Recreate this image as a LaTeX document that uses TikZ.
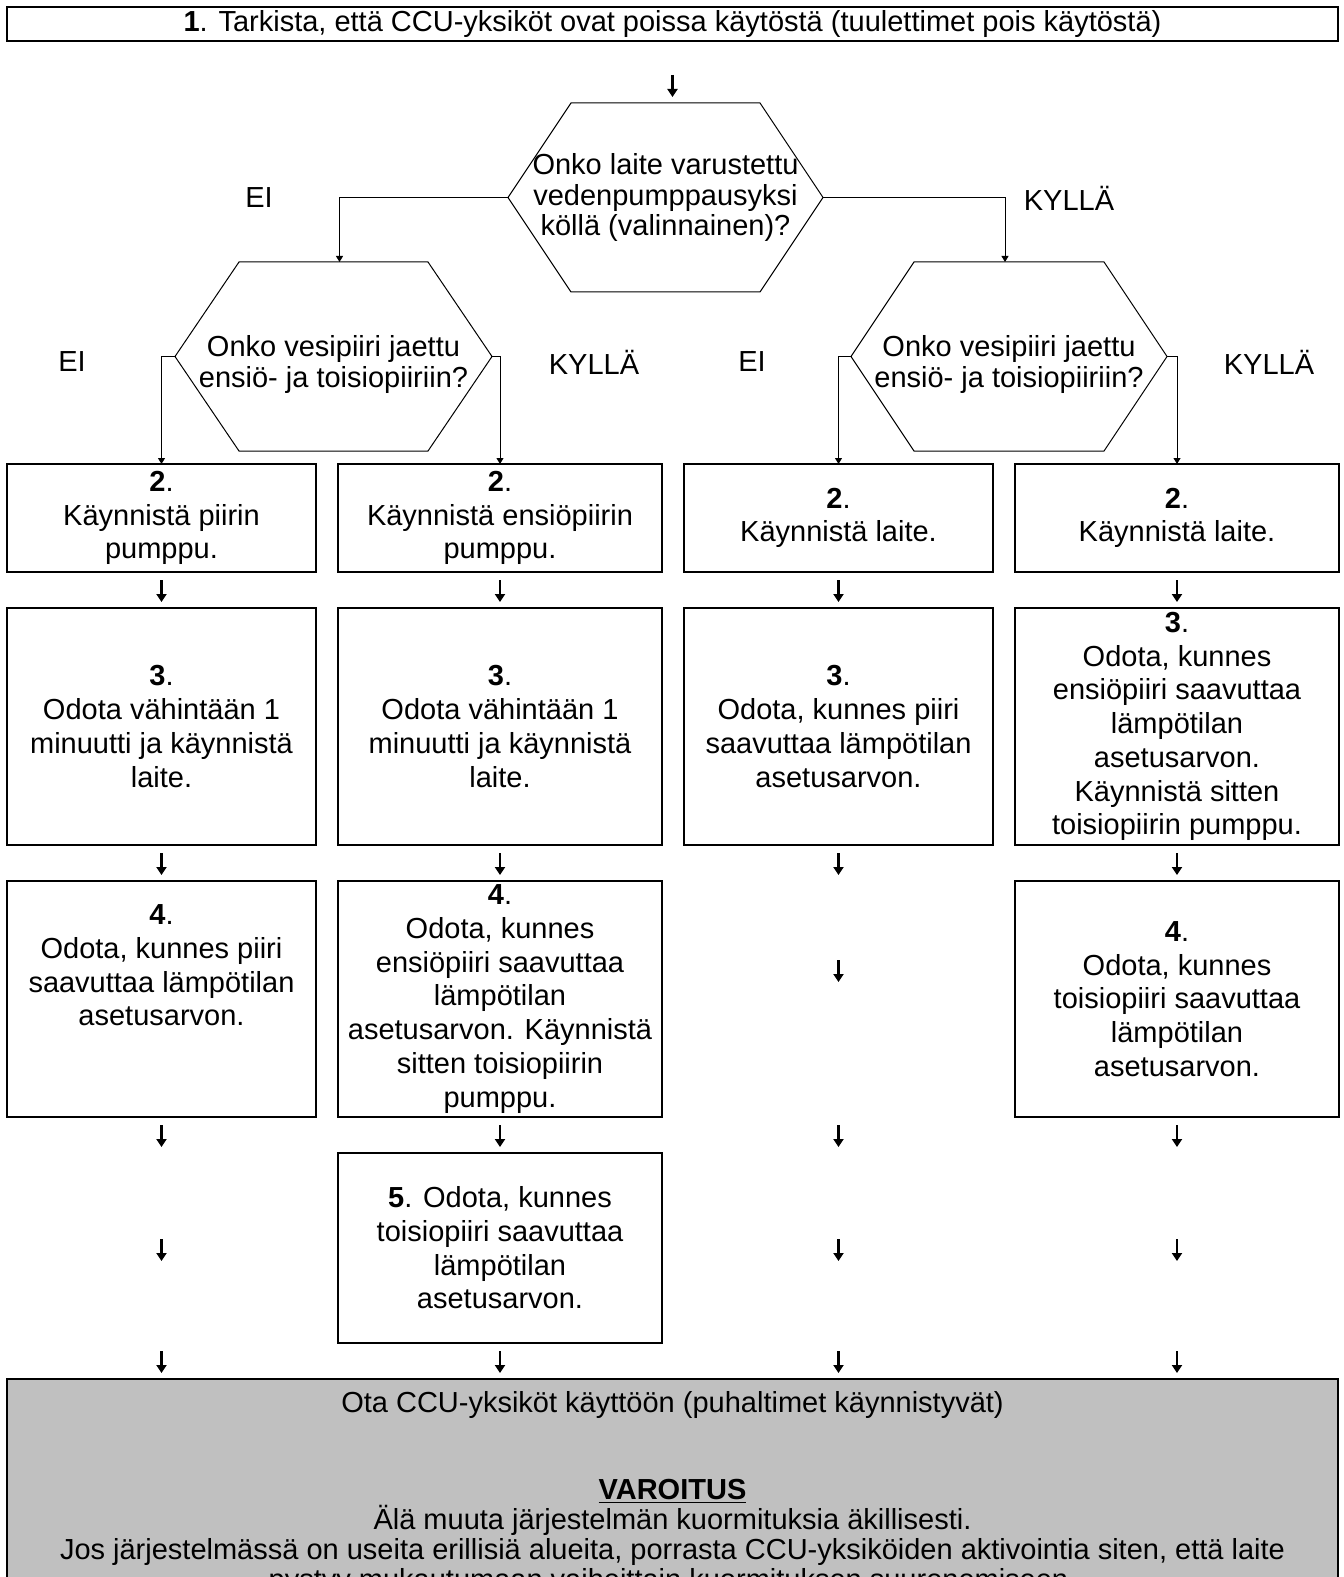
\documentclass[tikz,border=0pt]{standalone}
\usepackage{fontspec}
\setmainfont{Liberation Sans}
\usepackage{tikz}
\usetikzlibrary{arrows.meta,calc,positioning}
\definecolor{WarnGray}{HTML}{C0C0C0}
\newcommand{\boxfont}{\fontsize{14.5pt}{16.85pt}\selectfont}
\newcommand{\hexfont}{\fontsize{14.5pt}{15.1pt}\selectfont}
\newcommand{\hexoutline}[2]{%
  \draw[hexline] (#1.west) -- ($(#1.north west)+(#2,0)$) -- ($(#1.north east)+(-#2,0)$)
    -- (#1.east) -- ($(#1.south east)+(-#2,0)$) -- ($(#1.south west)+(#2,0)$) -- cycle;}
\tikzset{
  stepbox/.style={draw, line width=1pt, inner sep=0pt, outer sep=0pt, align=center, font=\boxfont},
  emptycell/.style={inner sep=0pt, outer sep=0pt},
  narrowcol/.style={minimum width=154.5pt},
  widecol/.style={minimum width=162pt},
  shortrow/.style={minimum height=54pt},
  tallrow/.style={minimum height=118.5pt},
  midrow/.style={minimum height=118pt},
  lastrow/.style={minimum height=95pt},
  hexq/.style={inner sep=0pt, outer sep=0pt, minimum height=94.5pt, align=center, font=\hexfont},
  hextext/.style={inner sep=0pt, align=center, font=\hexfont, yshift=-4pt},
  hexline/.style={line width=0.5pt},
  branchlabel/.style={inner sep=0pt, font=\boxfont},
  warnbox/.style={draw, line width=1pt, fill=WarnGray, anchor=north, minimum width=665.5pt, inner xsep=0pt, inner ysep=6pt, outer sep=0pt, align=center, font=\hexfont},
  cellarrow/.style={-{Triangle[length=4pt,width=5pt]}, line width=1.2pt},
  gaparrow/.style={cellarrow, shorten <=4pt, shorten >=3pt},
  brancharrow/.style={-{Triangle[length=3pt,width=3.5pt]}, line width=0.5pt}
}
\begin{document}
\begin{tikzpicture}[x=0.5pt, y=-0.5pt, node distance=18pt and 11pt]
  \useasboundingbox (0,0) rectangle (1343,1577);
  \node[stepbox, minimum width=665.5pt, minimum height=17pt] (step1) at (672.5,24) {\textbf{1}. Tarkista, että CCU-yksiköt ovat poissa käytöstä (tuulettimet pois käytöstä)};

  \node[hexq, minimum width=157.5pt] (qpump) at (665.5,197.5) {Onko laite varustettu\\vedenpumppausyksi\\köllä (valinnainen)?};
  \node[hexq, minimum width=158.5pt, label={[hextext]center:{Onko vesipiiri jaettu\\ensiö- ja toisiopiiriin?}}] (qleft) at (333.5,356.5) {};
  \node[hexq, minimum width=158pt, label={[hextext]center:{Onko vesipiiri jaettu\\ensiö- ja toisiopiiriin?}}] (qright) at (1009,356.5) {};
  \hexoutline{qpump}{63}
  \hexoutline{qleft}{64}
  \hexoutline{qright}{63}

  \node[branchlabel] (noPump) at (259,198) {EI};
  \node[branchlabel] (yesPump) at (1069,198) {KYLLÄ};
  \node[branchlabel] (noLeft) at (72,362) {EI};
  \node[branchlabel] (yesLeft) at (594,362) {KYLLÄ};
  \node[branchlabel] (noRight) at (752,362) {EI};
  \node[branchlabel] (yesRight) at (1269,362) {KYLLÄ};

  \node[stepbox, narrowcol, shortrow] (c1r2) at (161.5,518) {\textbf{2}.\\Käynnistä piirin\\pumppu.};
  \node[stepbox, widecol, shortrow, right=of c1r2] (c2r2) {\textbf{2}.\\Käynnistä ensiöpiirin\\pumppu.};
  \node[stepbox, narrowcol, shortrow, right=of c2r2] (c3r2) {\textbf{2}.\\Käynnistä laite.};
  \node[stepbox, widecol, shortrow, right=of c3r2] (c4r2) {\textbf{2}.\\Käynnistä laite.};

  \node[stepbox, narrowcol, tallrow, below=of c1r2] (c1r3) {\textbf{3}.\\Odota vähintään 1\\minuutti ja käynnistä\\laite.};
  \node[stepbox, widecol, tallrow, below=of c2r2] (c2r3) {\textbf{3}.\\Odota vähintään 1\\minuutti ja käynnistä\\laite.};
  \node[stepbox, narrowcol, tallrow, below=of c3r2] (c3r3) {\textbf{3}.\\Odota, kunnes piiri\\saavuttaa lämpötilan\\asetusarvon.};
  \node[stepbox, widecol, tallrow, below=of c4r2] (c4r3) {\textbf{3}.\\Odota, kunnes\\ensiöpiiri saavuttaa\\lämpötilan\\asetusarvon.\\Käynnistä sitten\\toisiopiirin pumppu.};

  \node[stepbox, narrowcol, midrow, below=of c1r3] (c1r4) {\textbf{4}.\\Odota, kunnes piiri\\saavuttaa lämpötilan\\asetusarvon.\\\mbox{}\\\mbox{}};
  \node[stepbox, widecol, midrow, below=of c2r3] (c2r4) {\textbf{4}.\\Odota, kunnes\\ensiöpiiri saavuttaa\\lämpötilan\\asetusarvon. Käynnistä\\sitten toisiopiirin\\pumppu.};
  \node[emptycell, narrowcol, midrow, below=of c3r3] (c3r4) {};
  \node[stepbox, widecol, midrow, below=of c4r3] (c4r4) {\textbf{4}.\\Odota, kunnes\\toisiopiiri saavuttaa\\lämpötilan\\asetusarvon.};

  \node[emptycell, narrowcol, lastrow, below=of c1r4] (c1r5) {};
  \node[stepbox, widecol, lastrow, below=of c2r4] (c2r5) {\textbf{5}. Odota, kunnes\\toisiopiiri saavuttaa\\lämpötilan\\asetusarvon.};
  \node[emptycell, narrowcol, lastrow, below=of c3r4] (c3r5) {};
  \node[emptycell, widecol, lastrow, below=of c4r4] (c4r5) {};

  \node[warnbox] (warn) at (672.5,1379) {Ota CCU-yksiköt käyttöön (puhaltimet käynnistyvät)\\[28.5pt]\underline{\textbf{VAROITUS}}\\Älä muuta järjestelmän kuormituksia äkillisesti.\\Jos järjestelmässä on useita erillisiä alueita, porrasta CCU-yksiköiden aktivointia siten, että laite\\pystyy mukautumaan vaiheittain kuormituksen suurenemiseen.};

  \draw[gaparrow, shorten <=17pt] (step1.south) -- (step1.south |- qpump.north);
  \draw[brancharrow] (qpump.west) -| ([xshift=3pt]qleft.north);
  \draw[brancharrow] (qpump.east) -| ([xshift=-2pt]qright.north);
  \draw[brancharrow] (qleft.west) -| (c1r2.north);
  \draw[brancharrow] (qleft.east) -| (c2r2.north);
  \draw[brancharrow] (qright.west) -| (c3r2.north);
  \draw[brancharrow] (qright.east) -| (c4r2.north);

  \foreach \col in {c1,c2,c3,c4} {
    \draw[gaparrow] (\col r2.south) -- (\col r3.north);
    \draw[gaparrow] (\col r3.south) -- (\col r4.north);
    \draw[gaparrow] (\col r4.south) -- (\col r5.north);
    \draw[gaparrow] (\col r5.south) -- (\col r5.south |- warn.north);
  }
  \coordinate (c3r4a) at ($(c3r4.center)+(0,-39)$);
  \coordinate (c3r4b) at ($(c3r4.center)+(0,-17)$);
  \draw[cellarrow] (c3r4a) -- (c3r4b);
  \foreach \col in {c1,c3,c4} {
    \coordinate (\col r5a) at ($(\col r5.center)+(0,-9)$);
    \coordinate (\col r5b) at ($(\col r5.center)+(0,13)$);
    \draw[cellarrow] (\col r5a) -- (\col r5b);
  }
\end{tikzpicture}
\end{document}
